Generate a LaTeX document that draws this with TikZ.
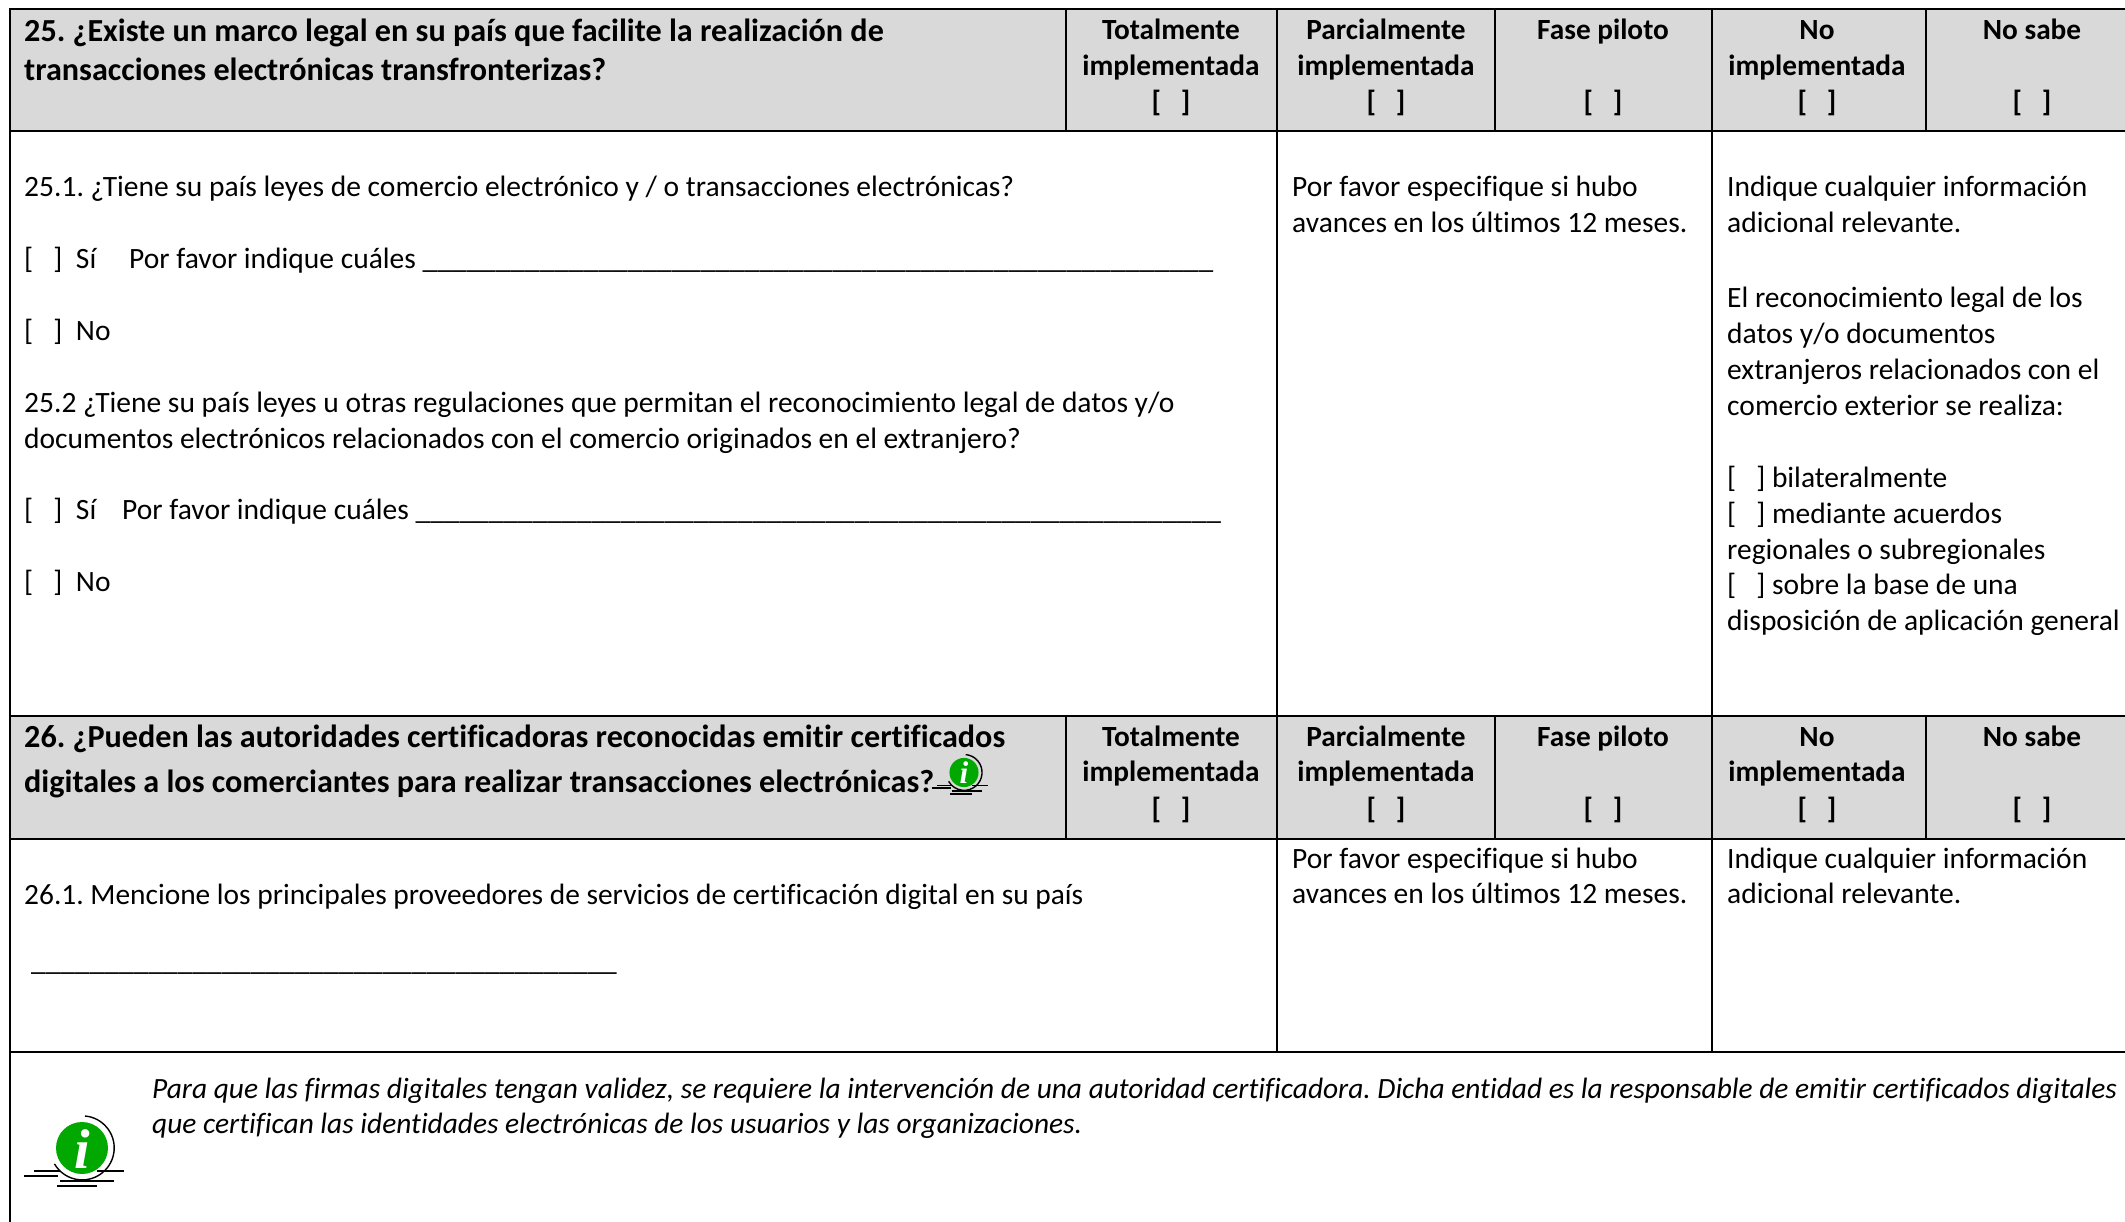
\documentclass[tikz,border=0pt]{standalone}
\usepackage{fontspec}
\setmainfont{Carlito}[Ligatures={NoCommon}]
\newfontfamily\iconfont{Liberation Serif}
\newcommand{\regf}{\fontsize{29.5}{35}\selectfont}
\newcommand{\tightf}{\fontsize{29.4}{35}\selectfont}
\newcommand{\boldf}{\fontsize{29.3}{35}\selectfont\bfseries}
\newcommand{\qf}{\fontsize{32.15}{35}\selectfont\bfseries}
\newcommand{\itf}{\fontsize{29.4}{35}\selectfont\itshape}
\definecolor{headgrey}{HTML}{D9D9D9}
\definecolor{icongreen}{HTML}{00A800}
\frenchspacing
\tikzset{
  x=1pt,y=1pt,
  txt/.style={anchor=base west,inner sep=0pt,font=\regf,text=black},
  hq/.style={anchor=base west,inner sep=0pt,font=\qf,text=black},
  hc/.style={anchor=base,inner sep=0pt,font=\boldf,text=black},
  note/.style={anchor=base west,inner sep=0pt,font=\itf,text=black},
  rulethin/.style={line width=2pt,draw=black},
  rulethick/.style={line width=2.6pt,draw=black},
  iconline/.style={line width=1.6pt,draw=black},
  pics/infoicon/.style={code={
    \fill[icongreen] (0,0) circle (26);
    \node[inner sep=0pt,text=white,transform shape,font=\iconfont\fontsize{56}{56}\selectfont\bfseries\itshape] (#1) at (0,-1) {i};
    \draw[iconline,line width=1.4pt] (3,32) arc (85:-150:32);
    \draw[iconline] (-48,-23) -- (-22,-23);
    \draw[iconline] (15,-23) -- (42,-23);
    \draw[iconline] (-58,-28) -- (-24,-28);
    \draw[iconline] (-22,-33) -- (32,-33);
    \draw[iconline] (-25,-38) -- (15,-38);
  }}
}
\newcommand{\hdrcols}[4]{%
  \node[hc] (#1a) at (1171,-#2) {Totalmente};
  \node[hc] (#1b) at (1171,-#3) {implementada};
  \node[hc] (#1c) at (1171,-#4) {[\ \ \ ]};
  \node[hc] (#1d) at (1386,-#2) {Parcialmente};
  \node[hc] (#1e) at (1386,-#3) {implementada};
  \node[hc] (#1f) at (1386,-#4) {[\ \ \ ]};
  \node[hc] (#1g) at (1603,-#2) {Fase piloto};
  \node[hc] (#1h) at (1603,-#4) {[\ \ \ ]};
  \node[hc] (#1i) at (1817,-#2) {No};
  \node[hc] (#1j) at (1817,-#3) {implementada};
  \node[hc] (#1k) at (1817,-#4) {[\ \ \ ]};
  \node[hc] (#1l) at (2032,-#2) {No sabe};
  \node[hc] (#1m) at (2032,-#4) {[\ \ \ ]};
}
\begin{document}
\begin{tikzpicture}
\useasboundingbox (0,0) rectangle (2125,-1222);
\fill[white] (0,0) rectangle (2125,-1222);
\fill[headgrey] (10,-9) rectangle (2125,-131);
\fill[headgrey] (10,-716) rectangle (2125,-839);
% horizontal rules
\draw[rulethick] (10,-9) -- (2125,-9);
\draw[rulethick] (10,-131) -- (2125,-131);
\draw[rulethick] (10,-716) -- (2125,-716);
\draw[rulethick] (10,-839) -- (2125,-839);
\draw[rulethick] (10,-1052) -- (2125,-1052);
% vertical rules
\draw[rulethin] (10,-8) -- (10,-1222);
\foreach \xx in {1066,1277,1495,1712,1926} {
  \draw[rulethin] (\xx,-9) -- (\xx,-131);
  \draw[rulethin] (\xx,-716) -- (\xx,-839);
}
\foreach \xx in {1277,1712} {
  \draw[rulethin] (\xx,-131) -- (\xx,-716);
  \draw[rulethin] (\xx,-839) -- (\xx,-1052);
}
% header 25
\node[hq] (q25a) at (24,-42) {25. ¿Existe un marco legal en su país que facilite la realización de};
\node[hq] (q25b) at (24,-81) {transacciones electrónicas transfronterizas?};
\hdrcols{ha}{39.5}{75.5}{111.5}
% body 25
\node[txt] (a1) at (24,-197) {25.1. ¿Tiene su país leyes de comercio electrónico y / o transacciones electrónicas?};
\node[txt] (a2) at (24,-269) {[\ \ \ ]\hspace{7pt} Sí};
\node[txt] (a2b) at (129,-269) {Por favor indique cuáles {\tightf\_\_\_\_\_\_\_\_\_\_\_\_\_\_\_\_\_\_\_\_\_\_\_\_\_\_\_\_\_\_\_\_\_\_\_\_\_\_\_\_\_\_\_\_\_\_\_\_\_\_\_\_\_\_}};
\node[txt] (a3) at (24,-341) {[\ \ \ ]\hspace{7pt} No};
\node[txt] (a4) at (24,-412) {25.2 ¿Tiene su país leyes u otras regulaciones que permitan el reconocimiento legal de datos y/o};
\node[txt] (a5) at (24,-448) {documentos electrónicos relacionados con el comercio originados en el extranjero?};
\node[txt] (a6) at (24,-519) {[\ \ \ ]\hspace{7pt} Sí};
\node[txt] (a6b) at (122,-519) {Por favor indique cuáles {\tightf\_\_\_\_\_\_\_\_\_\_\_\_\_\_\_\_\_\_\_\_\_\_\_\_\_\_\_\_\_\_\_\_\_\_\_\_\_\_\_\_\_\_\_\_\_\_\_\_\_\_\_\_\_\_\_}};
\node[txt] (a7) at (24,-591) {[\ \ \ ]\hspace{7pt} No};
% column 2
\node[txt] (b1) at (1292,-197) {Por favor especifique si hubo};
\node[txt] (b2) at (1292,-233) {avances en los últimos 12 meses.};
% column 3
\node[txt] (c1) at (1727,-197) {Indique cualquier información};
\node[txt] (c2) at (1727,-233) {adicional relevante.};
\node[txt] (c3) at (1727,-308) {El reconocimiento legal de los};
\node[txt] (c4) at (1727,-344) {datos y/o documentos};
\node[txt] (c5) at (1727,-380) {extranjeros relacionados con el};
\node[txt] (c6) at (1727,-415) {comercio exterior se realiza:};
\node[txt] (c7) at (1727,-487) {[\ \ \ ] bilateralmente};
\node[txt] (c8) at (1727,-523) {[\ \ \ ] mediante acuerdos};
\node[txt] (c9) at (1727,-559) {regionales o subregionales};
\node[txt] (c10) at (1727,-594) {[\ \ \ ] sobre la base de una};
\node[txt] (c11) at (1727,-630) {disposición de aplicación general};
% header 26
\node[hq] (q26a) at (24,-747) {26. ¿Pueden las autoridades certificadoras reconocidas emitir certificados};
\node[hq] (q26b) at (24,-792) {digitales a los comerciantes para realizar transacciones electrónicas?};
\pic[scale=0.56,transform shape] at (964,-772.5) {infoicon=iconsmall};
\hdrcols{hb}{746}{781}{818}
% body 26
\node[txt,font=\tightf] (d1) at (24,-904) {26.1. Mencione los principales proveedores de servicios de certificación digital en su país};
\node[txt,font=\tightf] (d2) at (31,-970) {\_\_\_\_\_\_\_\_\_\_\_\_\_\_\_\_\_\_\_\_\_\_\_\_\_\_\_\_\_\_\_\_\_\_\_\_\_\_\_\_};
\node[txt] (e1) at (1292,-868) {Por favor especifique si hubo};
\node[txt] (e2) at (1292,-903) {avances en los últimos 12 meses.};
\node[txt] (f1) at (1727,-868) {Indique cualquier información};
\node[txt] (f2) at (1727,-903) {adicional relevante.};
% note
\pic at (82,-1148) {infoicon=iconbig};
\node[note] (n1) at (152,-1098) {Para que las firmas digitales tengan validez, se requiere la intervención de una autoridad certificadora. Dicha entidad es la responsable de emitir certificados digitales};
\node[note] (n2) at (152,-1133) {que certifican las identidades electrónicas de los usuarios y las organizaciones.};
\end{tikzpicture}
\end{document}
